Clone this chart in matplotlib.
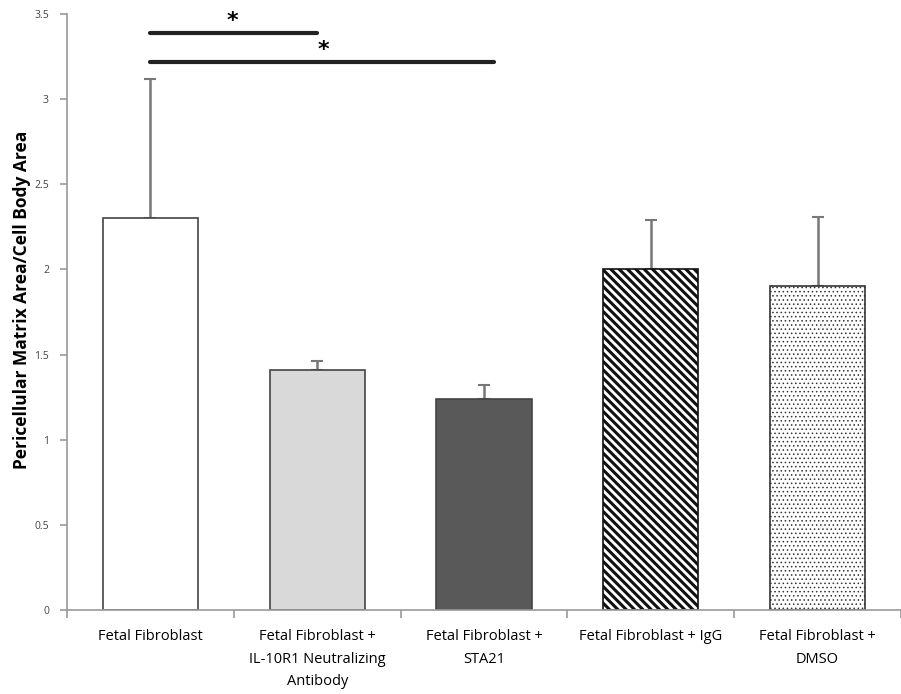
import numpy as np
import matplotlib.pyplot as plt

categorias = ['Fetal Fibroblast', 'Fetal Fibroblast +\nIL-10R1 Neutralizing\nAntibody',
              'Fetal Fibroblast +\nSTA21', 'Fetal Fibroblast + IgG', 'Fetal Fibroblast +\nDMSO']
valores = [2.30, 1.41, 1.24, 2.00, 1.90]
errores = [0.82, 0.05, 0.08, 0.29, 0.41]
colores = ['white', '#d9d9d9', '#595959', 'white', 'white']
tramas = [None, None, None, '\\\\\\\\', '....']
grosor_trama = [1.0, 1.0, 1.0, 2.2, 0.6]
borde = ['#444444', '#444444', '#444444', '#111111', '#333333']

# lineas de significancia: (inicio, fin, altura)
sig_lineas = [(0, 1.0, 3.39), (0, 2.06, 3.22)]
sig_estrellas = [(0.49, 3.46), (1.04, 3.29)]

plt.rcParams['font.family'] = ['Open Sans', 'DejaVu Sans']

fig = plt.figure(figsize=(9.01, 6.94), dpi=100)
ax = fig.add_axes([67/901, 84/694, 834/901, 596/694])

x = np.arange(len(valores))
for i in range(len(valores)):
    with plt.rc_context({'hatch.linewidth': grosor_trama[i]}):
        ax.bar(x[i], valores[i], width=0.57, color=colores[i], edgecolor=borde[i],
               linewidth=1.2, hatch=tramas[i], zorder=2)
ax.errorbar(x, valores, yerr=[np.zeros(len(errores)), errores], fmt='none',
            ecolor='#777777', elinewidth=1.8, capsize=4, capthick=1.5, zorder=1)

for a, b, h in sig_lineas:
    ax.plot([a, b], [h, h], color='#222222', linewidth=3, solid_capstyle='round')
for xe, ye in sig_estrellas:
    ax.text(xe, ye, '*', ha='center', va='center', fontsize=16, fontweight='bold',
            family='DejaVu Sans')

ax.set_xlim(-0.5, 4.46)
ax.set_ylim(0, 3.5)
ax.set_yticks(np.arange(0, 3.51, 0.5))
ax.set_yticklabels(['0', '0.5', '1', '1.5', '2', '2.5', '3', '3.5'])
ax.set_xticks(x)
ax.set_xticklabels(categorias, fontsize=10.5, linespacing=1.65)
ax.set_xticks(np.arange(-0.5, 4.6, 1), minor=True)
ax.tick_params(axis='x', which='major', length=0, pad=14)
ax.tick_params(axis='x', which='minor', length=6, color='#999999', width=1.2)
ax.tick_params(axis='y', length=5, color='#999999', width=1.2, labelsize=7.5,
               labelcolor='#444444', pad=8)

ax.spines['top'].set_visible(False)
ax.spines['right'].set_visible(False)
ax.spines['left'].set_color('#999999')
ax.spines['bottom'].set_color('#999999')
ax.spines['left'].set_linewidth(1.2)
ax.spines['bottom'].set_linewidth(1.2)

ax.set_ylabel('Pericellular Matrix Area/Cell Body Area', fontsize=12.5,
              fontweight='bold')
ax.yaxis.set_label_coords(-0.043, 0.52)

plt.savefig('out.png', dpi=100)
